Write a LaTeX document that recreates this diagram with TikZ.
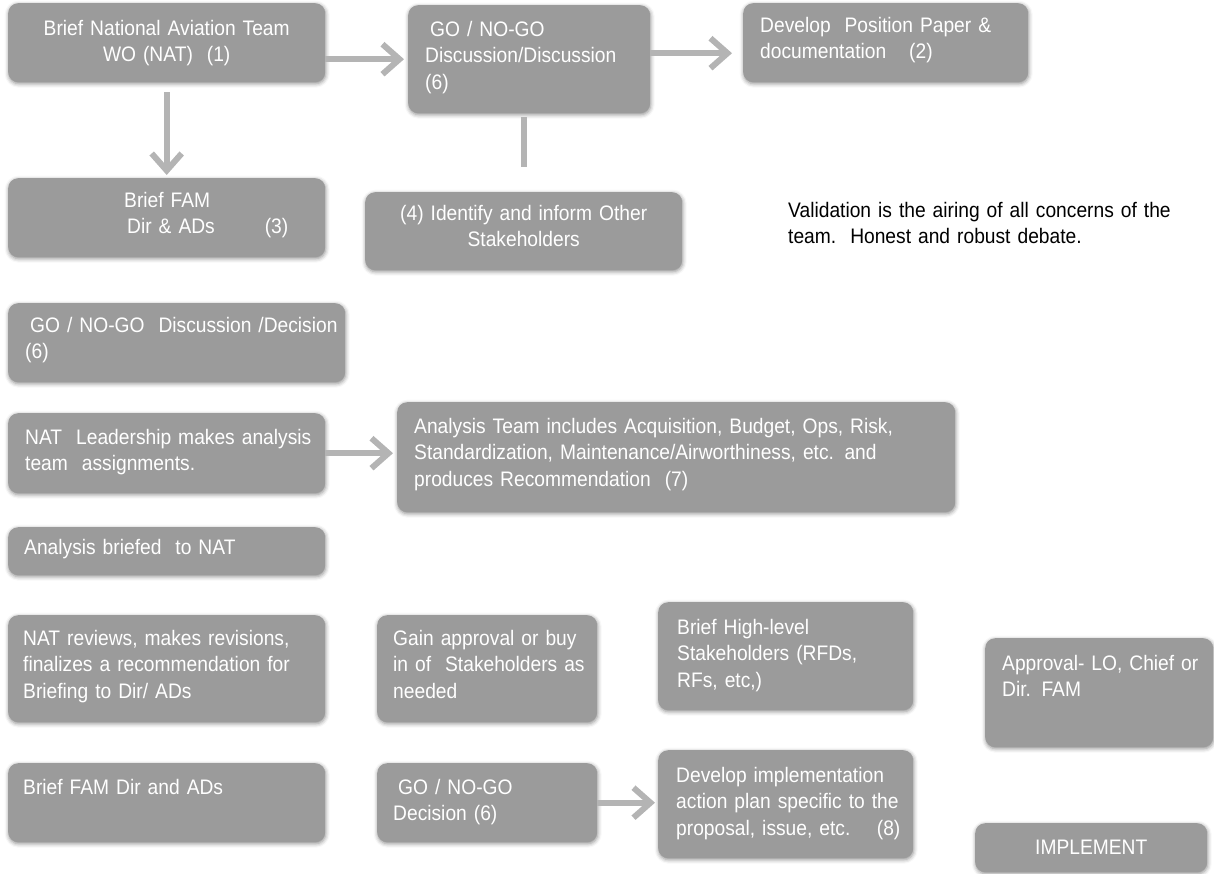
\documentclass[tikz,border=0pt]{standalone}
\usepackage{fontspec}
\setmainfont{Liberation Sans}[FakeStretch=0.915]
\usepackage{tikz}
\usetikzlibrary{arrows.meta,positioning,shadows.blur}
\definecolor{stepgray}{RGB}{155,155,155}
\definecolor{flowgray}{RGB}{180,180,180}
\newcommand{\stepfont}{\fontsize{21}{26.5}\selectfont\fontdimen2\font=3.9pt\relax}

\begin{document}
\begin{tikzpicture}[x=1pt,y=-1pt,
    card/.style={anchor=north west, rounded corners=10pt, fill=stepgray,
      text=white, inner ysep=0pt, font=\stepfont,
      blur shadow={shadow xshift=0.5pt, shadow yshift=-1.5pt,
        shadow blur radius=4pt, shadow opacity=45}},
    stage/.style={card, align=left,
      execute at begin node={\hyphenpenalty=10000\relax
        \rightskip=-80pt plus 1fil\relax}},
    banner/.style={card, align=center},
    dims/.style n args={4}{inner xsep=#4pt, text width=#1pt-2*#4pt,
      text height=#3pt, text depth=#2pt-#3pt},
    flow/.style={draw=flowgray, line width=6pt,
      -{Straight Barb[length=17pt,width=30pt]}},
    link/.style={draw=flowgray, line width=6pt}]
  \useasboundingbox (0,0) rectangle (1214,873);

  % top row
  \node[banner, dims={317}{79}{32}{16}] (brief) at (8,3)
    {Brief National Aviation Team\\WO (NAT)\ \ (1)};
  \node[stage, dims={242}{108}{31}{17}] (gonogo) at (408,5)
    {\hspace*{5pt}GO / NO-GO\\Discussion/Discussion\\(6)};
  \node[stage, dims={285}{79}{29}{17}] (paper) at (743,3)
    {Develop\ \ Position Paper \&\\documentation\hspace{16pt} (2)};

  \node[stage, dims={317}{79}{29}{16}] (fam) at (8,178)
    {\hspace*{100pt}Brief FAM\\\hspace*{103pt}Dir \& ADs\hspace{43pt} (3)};
  \node[banner, dims={317}{78}{28}{16}] (identify) at (365,192)
    {(4) Identify and inform Other\\Stakeholders};
  \node[anchor=north west, inner sep=0pt, text width=420pt, align=left,
    text height=16pt, font=\stepfont] (note) at (788,201)
    {Validation is the airing of all concerns of the\\team.\ \ Honest and robust debate.};

  % analysis
  \node[stage, dims={337}{79}{29}{17}] (decide) at (8,303)
    {\hspace*{5pt}GO / NO-GO\ \ Discussion /Decision\\(6)};
  \node[stage, dims={317}{80}{31}{17}] (lead) at (8,413)
    {NAT\ \ Leadership makes analysis\\team\ \ assignments.};
  \node[stage, dims={558}{110}{31}{17}] (team) at (397,402)
    {Analysis Team includes Acquisition, Budget, Ops, Risk,\\
     Standardization, Maintenance/Airworthiness, etc. and\\
     produces Recommendation\ \ (7)};
  \node[stage, dims={317}{48}{27}{16}] (briefed) at (8,527)
    {Analysis briefed\ \ to NAT};

  % approval
  \node[stage, dims={317}{107}{30}{15}] (reviews) at (8,615)
    {NAT reviews, makes revisions,\\finalizes a recommendation for\\Briefing to Dir/ ADs};
  \node[stage, dims={220}{107}{30}{16}] (gain) at (377,615)
    {Gain approval or buy\\in of\ \ Stakeholders as\\needed};
  \node[stage, dims={255}{108}{32}{19}] (high) at (658,602)
    {Brief High-level\\Stakeholders (RFDs,\\RFs, etc,)};
  \node[stage, dims={228}{109}{32}{17}] (approve) at (985,638)
    {Approval- LO, Chief or\\Dir. FAM};

  % implementation
  \node[stage, dims={317}{79}{31}{15}] (famdir) at (8,763)
    {Brief FAM Dir and ADs};
  \node[stage, dims={220}{79}{31}{16}] (final) at (377,763)
    {\hspace*{5pt}GO / NO-GO\\Decision (6)};
  \node[stage, dims={255}{108}{32}{18}] (plan) at (658,750)
    {Develop implementation\\action plan specific to the\\proposal, issue, etc.\hspace{16pt} (8)};
  \node[banner, dims={232}{49}{31}{16}] (implement) at (975,823)
    {IMPLEMENT};

  % connectors
  \draw[flow, shorten >=4pt] (brief.east |- gonogo.west) -- (gonogo.west);
  \draw[flow, shorten >=11pt] ([yshift=6pt]gonogo.east)
    -- ([yshift=6pt]gonogo.east -| paper.west);
  \draw[flow, shorten <=10pt, shorten >=3pt] (brief.south) -- (brief.south |- fam.north);
  \draw[link, shorten <=4pt, shorten >=25pt] (identify.north |- gonogo.south) -- (identify.north);
  \draw[flow, shorten >=4pt] (lead.east) -- (team.west |- lead.east);
  \draw[flow, shorten >=3pt] (final.east) -- (plan.west |- final.east);
\end{tikzpicture}
\end{document}
